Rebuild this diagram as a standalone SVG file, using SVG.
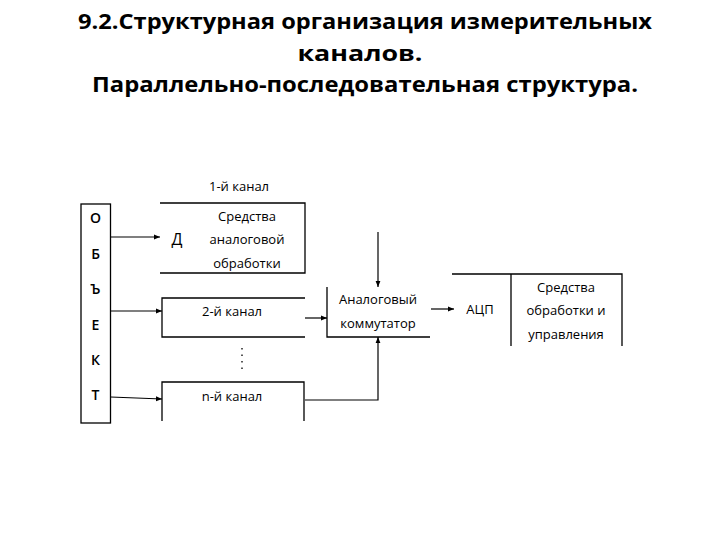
<svg xmlns="http://www.w3.org/2000/svg" width="720" height="540" viewBox="0 0 720 540">
<defs>
<marker id="ah" viewBox="0 0 10 10" refX="10" refY="5" markerWidth="6" markerHeight="6" markerUnits="userSpaceOnUse" orient="auto">
<path d="M0,1 L10,5 L0,9 z" fill="#000"/>
</marker>
<style>
.t{font-family:"Open Sans","Noto Sans",sans-serif;font-weight:bold;font-size:22px;fill:#000;text-anchor:middle}
.l{font-family:"Open Sans","Noto Sans",sans-serif;font-size:13px;fill:#000;text-anchor:middle}
.b{font-family:"Open Sans","Noto Sans",sans-serif;font-size:14px;font-weight:600;fill:#000;text-anchor:middle}
.s{fill:none;stroke:#000;stroke-width:1.3}
.c{fill:none;stroke:#000;stroke-width:1.2;marker-end:url(#ah)}
</style>
</defs>
<rect width="720" height="540" fill="#fff"/>
<g id="title">
<text class="t" x="365" y="29" textLength="574" lengthAdjust="spacingAndGlyphs">9.2.Структурная организация измерительных</text>
<text class="t" x="360" y="61" textLength="125" lengthAdjust="spacingAndGlyphs">каналов.</text>
<text class="t" x="365" y="92" textLength="546" lengthAdjust="spacingAndGlyphs">Параллельно-последовательная структура.</text>
</g>
<g id="object">
<rect class="s" x="81" y="204" width="29.5" height="219"/>
<text class="b" x="95.5" y="223">О</text>
<text class="b" x="95.5" y="259">Б</text>
<text class="b" x="95.5" y="294">Ъ</text>
<text class="b" x="95.5" y="330">Е</text>
<text class="b" x="95.5" y="365">К</text>
<text class="b" x="95.5" y="400">Т</text>
</g>
<g id="channel1">
<text class="l" x="239" y="191">1-й канал</text>
<path class="s" d="M160,203 H305 V273 H160"/>
<text class="l" x="177" y="245" style="font-size:16px">Д</text>
<text class="l" x="247" y="221">Средства</text>
<text class="l" x="247" y="244">аналоговой</text>
<text class="l" x="247" y="268">обработки</text>
</g>
<g id="channel2">
<path class="s" d="M305,298 H162 V337 H305"/>
<text class="l" x="232" y="316">2-й канал</text>
</g>
<g id="dots">
<path d="M242,348 V374" stroke="#000" stroke-width="1.3" stroke-dasharray="1.5,5" fill="none"/>
</g>
<g id="channeln">
<path class="s" d="M162,421 V382 H304 V421"/>
<text class="l" x="232" y="401">n-й канал</text>
</g>
<g id="commutator">
<path class="s" d="M327,287 V337 H430"/>
<text class="l" x="378" y="304">Аналоговый</text>
<text class="l" x="378" y="328">коммутатор</text>
</g>
<g id="adc">
<path class="s" d="M452,274 H622 V346 M511,274 V346"/>
<text class="l" x="480" y="314">АЦП</text>
<text class="l" x="566" y="292">Средства</text>
<text class="l" x="566" y="315">обработки и</text>
<text class="l" x="566" y="339">управления</text>
</g>
<g id="connectors">
<path class="c" d="M110.5,237 H160"/>
<path class="c" d="M110.5,311 H162"/>
<path class="c" d="M110.5,397 L162,399"/>
<path class="c" d="M305,318 H327"/>
<path class="c" d="M378,232 V287"/>
<path class="c" d="M305,400 H378 V337"/>
<path class="c" d="M431,309 H454"/>
</g>
</svg>
